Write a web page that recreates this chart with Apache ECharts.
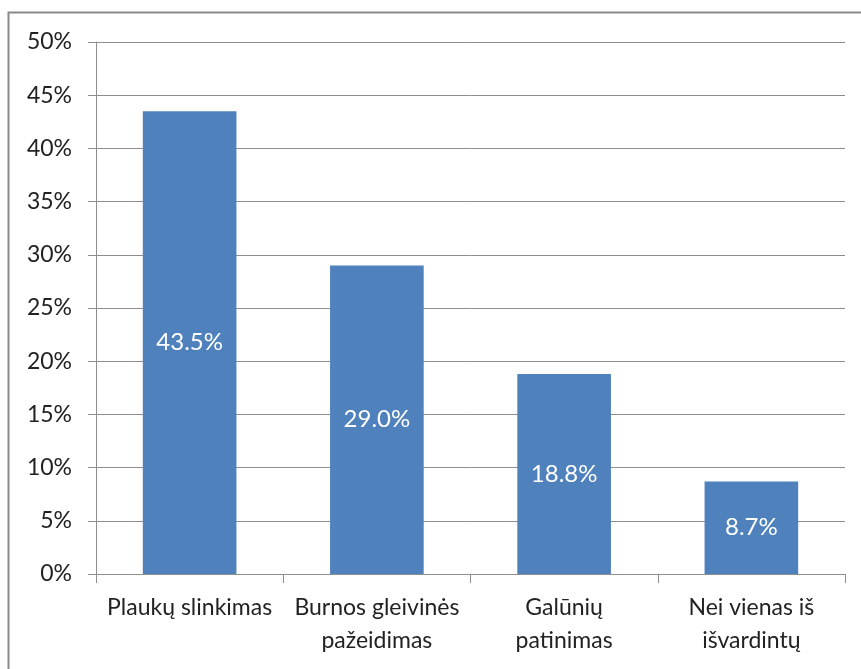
<!DOCTYPE html>
<html>
<head>
<meta charset="utf-8">
<script src="https://cdn.jsdelivr.net/npm/echarts@6/dist/echarts.min.js"></script>
<style>
  html, body { margin: 0; padding: 0; background: #fff; }
  #main { width: 861px; height: 669px; }
</style>
</head>
<body>
<div id="main"></div>
<script>
const categories = ['Plaukų slinkimas', 'Burnos gleivinės\npažeidimas', 'Galūnių\npatinimas', 'Nei vienas iš\nišvardintų'];
const values = [43.5, 29.0, 18.8, 8.7];

const chart = echarts.init(document.getElementById('main'));
const font = 'Lato, "Open Sans", sans-serif';

const option = {
  backgroundColor: '#fff',
  animation: false,
  graphic: [{
    type: 'rect',
    shape: { x: 8.5, y: 12.5, width: 900, height: 700 },
    style: { fill: 'none', stroke: '#8a8a8a', lineWidth: 2 },
    silent: true
  }],
  grid: { left: 96, right: 16, top: 42, bottom: 95 },
  xAxis: {
    type: 'category',
    data: categories,
    axisLine: { lineStyle: { color: '#8e8e8e', width: 1 } },
    axisTick: { show: true, length: 9, lineStyle: { color: '#8e8e8e' } },
    axisLabel: {
      color: '#222', fontSize: 23, fontFamily: font, margin: 17,
      lineHeight: 33, interval: 0
    }
  },
  yAxis: {
    type: 'value',
    min: 0, max: 50, interval: 5,
    axisLine: { show: true, lineStyle: { color: '#8e8e8e' } },
    axisTick: { show: true, length: 8, lineStyle: { color: '#8e8e8e' } },
    splitLine: { lineStyle: { color: '#8e8e8e', width: 1 } },
    axisLabel: {
      color: '#222', fontSize: 23, fontFamily: font, margin: 24,
      formatter: v => v + '%'
    }
  },
  series: [{
    type: 'bar',
    data: values,
    barWidth: '50%',
    itemStyle: { color: '#4f81bd' },
    label: {
      show: true, position: 'inside', color: '#fff',
      fontSize: 24, fontFamily: font,
      formatter: p => p.value.toFixed(1) + '%'
    }
  }]
};
chart.setOption(option);
</script>
</body>
</html>
